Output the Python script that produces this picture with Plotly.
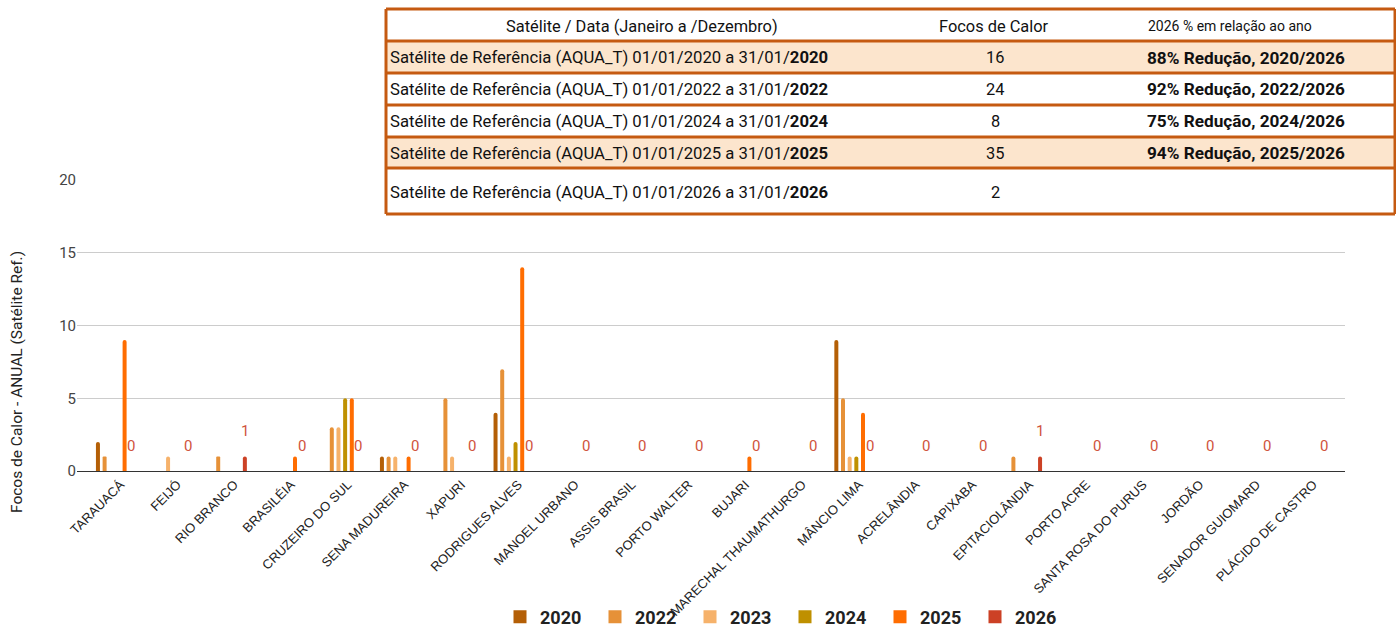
import plotly.graph_objects as go

# ---------------- data ----------------
cats = ["TARAUACÁ", "FEIJÓ", "RIO BRANCO", "BRASILÉIA", "CRUZEIRO DO SUL",
        "SENA MADUREIRA", "XAPURI", "RODRIGUES ALVES", "MANOEL URBANO",
        "ASSIS BRASIL", "PORTO WALTER", "BUJARI", "MARECHAL THAUMATHURGO",
        "MÂNCIO LIMA", "ACRELÂNDIA", "CAPIXABA", "EPITACIOLÂNDIA", "PORTO ACRE",
        "SANTA ROSA DO PURUS", "JORDÃO", "SENADOR GUIOMARD", "PLÁCIDO DE CASTRO"]

v2020 = [2, 0, 0, 0, 0, 1, 0, 4, 0, 0, 0, 0, 0, 9, 0, 0, 0, 0, 0, 0, 0, 0]
v2022 = [1, 0, 1, 0, 3, 1, 5, 7, 0, 0, 0, 0, 0, 5, 0, 0, 1, 0, 0, 0, 0, 0]
v2023 = [0, 1, 0, 0, 3, 1, 1, 1, 0, 0, 0, 0, 0, 1, 0, 0, 0, 0, 0, 0, 0, 0]
v2024 = [0, 0, 0, 0, 5, 0, 0, 2, 0, 0, 0, 0, 0, 1, 0, 0, 0, 0, 0, 0, 0, 0]
v2025 = [9, 0, 0, 1, 5, 1, 0, 14, 0, 0, 0, 1, 0, 4, 0, 0, 0, 0, 0, 0, 0, 0]
v2026 = [0, 0, 1, 0, 0, 0, 0, 0, 0, 0, 0, 0, 0, 0, 0, 0, 1, 0, 0, 0, 0, 0]

series_names = ["2020", "2022", "2023", "2024", "2025", "2026"]
series_vals = [v2020, v2022, v2023, v2024, v2025, v2026]
series_colors = ["#b45f06", "#e69138", "#f6b26b", "#bf9000", "#ff6d01", "#cc4125"]

y_ticks = [0, 5, 10, 15, 20]

table_header = ["Satélite / Data (Janeiro a /Dezembro)", "Focos de Calor",
                "2026 % em relação ao ano"]
table_years = ["2020", "2022", "2024", "2025", "2026"]
table_focos = ["16", "24", "8", "35", "2"]
table_reducao = ["88% Redução, 2020/2026", "92% Redução, 2022/2026",
                 "75% Redução, 2024/2026", "94% Redução, 2025/2026", ""]
table_highlight = [True, False, False, True, False]

# ---------------- layout geometry ----------------
W, H = 1396, 627
ML, MR, MT, MB = 77, 51, 180, 156
PW = W - ML - MR
PH = H - MT - MB
PAD = 0.162
BARGAP = 0.296
BARGROUPGAP = 0.4


def xp(px):
    return (px - ML) / PW


def yp(py):
    return (H - MB - py) / PH


FONT = "Roboto"
TFONT = 16.4

fig = go.Figure()
for name, vals, col in zip(series_names, series_vals, series_colors):
    fig.add_trace(go.Bar(x=cats, y=vals, name=name, marker_color=col,
                         marker_line_width=0, showlegend=False, legendgroup=name))
# legend entries (square swatches)
for name, col in zip(series_names, series_colors):
    fig.add_trace(go.Scatter(x=[None], y=[None], mode="markers", name=name,
                             legendgroup=name,
                             marker=dict(symbol="square", size=13, color=col)))

# value labels of the 2026 series
cat_px = PW / (len(cats) + 2 * PAD)
slot = cat_px * (1 - BARGAP) / len(series_names)
shift = 2.5 * slot
annotations = []
for c, v in zip(cats, v2026):
    annotations.append(dict(x=c, y=v, xref="x", yref="y", text=str(v),
                            showarrow=False, xshift=shift, yshift=25,
                            xanchor="center", yanchor="middle",
                            font=dict(family=FONT, size=15, color="#d0533e")))

# y axis title
annotations.append(dict(x=xp(17), y=yp(382), xref="paper", yref="paper",
                        text="Focos de Calor - ANUAL (Satélite Ref.)",
                        textangle=-90, showarrow=False,
                        xanchor="center", yanchor="middle",
                        font=dict(family=FONT, size=15.5, color="#222222")))

# ---------------- table (shapes + text) ----------------
shapes = []
line_col = "#c55a11"
row_lines = [9, 41, 73, 105, 137, 168, 214]
tx0, tx1 = 386, 1395
for i, hl in enumerate(table_highlight):
    if hl:
        shapes.append(dict(type="rect", xref="paper", yref="paper",
                           x0=xp(tx0), x1=xp(tx1), y0=yp(row_lines[i + 1]),
                           y1=yp(row_lines[i + 2]), fillcolor="#fce5cd",
                           line_width=0, layer="above"))
for ly in row_lines:
    shapes.append(dict(type="line", xref="paper", yref="paper",
                       x0=xp(tx0), x1=xp(tx1), y0=yp(ly), y1=yp(ly),
                       line=dict(color=line_col, width=3), layer="above"))
for lx in (tx0, tx1):
    shapes.append(dict(type="line", xref="paper", yref="paper",
                       x0=xp(lx), x1=xp(lx), y0=yp(row_lines[0]),
                       y1=yp(row_lines[-1]),
                       line=dict(color=line_col, width=3), layer="above"))


def tab_text(x, y, text, size=TFONT, anchor="center"):
    annotations.append(dict(x=xp(x), y=yp(y), xref="paper", yref="paper",
                            text=text, showarrow=False, xanchor=anchor,
                            yanchor="middle",
                            font=dict(family=FONT, size=size, color="#111")))


head_y = 26
tab_text(642, head_y, table_header[0])
tab_text(994, head_y, table_header[1])
tab_text(1230, head_y, table_header[2], size=14)
row_y = [58, 89, 121, 153, 192]
for yr, foc, red, ry in zip(table_years, table_focos, table_reducao, row_y):
    tab_text(388, ry, f"Satélite de Referência (AQUA_T) 01/01/{yr} a 31/01/<b>{yr}</b>",
             anchor="left", size=16.7)
    tab_text(995, ry, foc)
    if red:
        tab_text(1246, ry, f"<b>{red}</b>", size=17.2)

fig.update_layout(
    width=W, height=H,
    margin=dict(l=ML, r=MR, t=MT, b=MB, autoexpand=False),
    paper_bgcolor="white", plot_bgcolor="white",
    barmode="group", bargap=BARGAP, bargroupgap=BARGROUPGAP,
    barcornerradius=2,
    font=dict(family=FONT, color="#222"),
    showlegend=True,
    legend=dict(orientation="h", x=xp(500), xanchor="left", y=yp(617), yanchor="middle",
                entrywidth=50, traceorder="normal",
                font=dict(family=FONT, size=18, color="#222", weight="bold"),
                bgcolor="rgba(0,0,0,0)"),
    xaxis=dict(type="category", range=[-0.5 - PAD, len(cats) - 0.5 + PAD],
               tickangle=-45, tickfont=dict(family="Liberation Sans", size=13, color="#222"),
               ticklabelshift=6,
               showline=True, linecolor="#333333", linewidth=1, showgrid=False,
               automargin=False, ticks=""),
    yaxis=dict(range=[0, 20], tickvals=y_ticks, showgrid=True, gridcolor="#cccccc",
               gridwidth=1, zeroline=False, tickfont=dict(family=FONT, size=15, color="#444"),
               automargin=False, ticks=""),
    annotations=annotations,
    shapes=shapes,
)

fig.write_html("out.html", config={"displayModeBar": False},
               post_script="document.body.style.margin='0';")
